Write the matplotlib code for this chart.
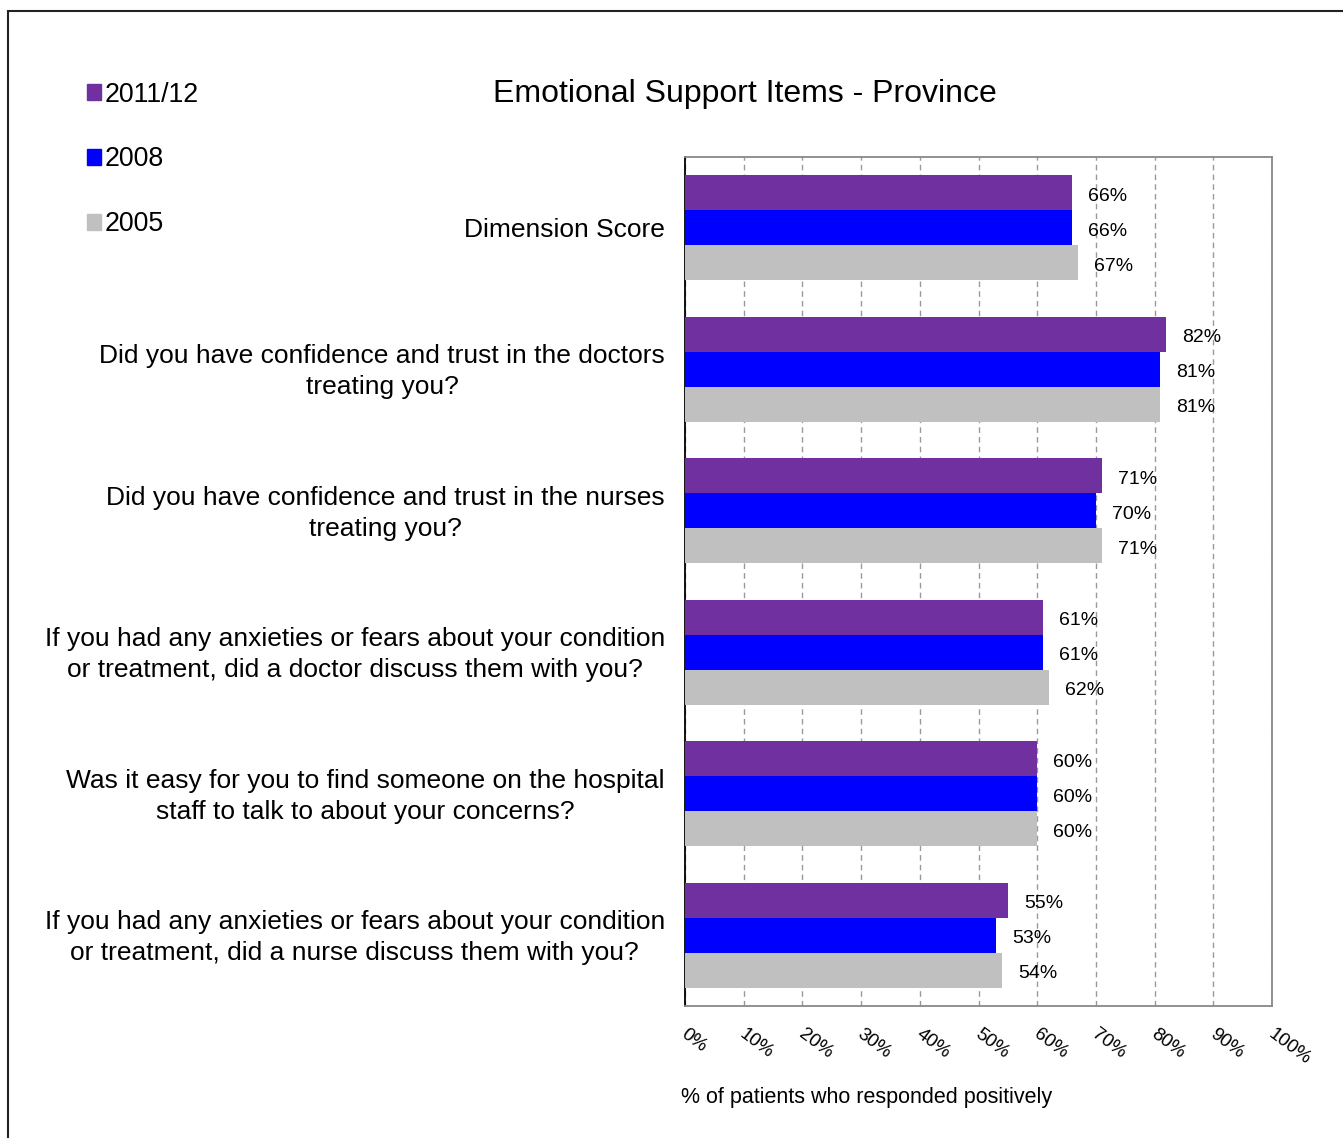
import numpy as np
import matplotlib
matplotlib.use("Agg")
import matplotlib.pyplot as plt
import matplotlib.transforms as mtransforms
from matplotlib.patches import Patch, Rectangle

plt.rcParams['font.family'] = ['Liberation Sans', 'DejaVu Sans']

# chart data
questions = [
    "Dimension Score",
    "Did you have confidence and trust in the doctors\ntreating you?",
    "Did you have confidence and trust in the nurses\ntreating you?",
    "If you had any anxieties or fears about your condition\nor treatment, did a doctor discuss them with you?",
    "Was it easy for you to find someone on the hospital\nstaff to talk to about your concerns?",
    "If you had any anxieties or fears about your condition\nor treatment, did a nurse discuss them with you?",
]
years = ["2011/12", "2008", "2005"]
vals_2011 = [66, 82, 71, 61, 60, 55]
vals_2008 = [66, 81, 70, 61, 60, 53]
vals_2005 = [67, 81, 71, 62, 60, 54]
colors = ["#7030A0", "#0000FF", "#C0C0C0"]
xticks = [0, 10, 20, 30, 40, 50, 60, 70, 80, 90, 100]

fig = plt.figure(figsize=(13.43, 11.38), dpi=100)
ax = fig.add_axes([685 / 1343, 1 - 1006 / 1138, 587 / 1343, 849 / 1138])

y = np.arange(len(questions))
barH = 0.248
series = [vals_2011, vals_2008, vals_2005]
for k, (vals, col) in enumerate(zip(series, colors)):
    pos = y + (k - 1) * barH
    ax.barh(pos, vals, height=barH, color=col, zorder=3)
    for p, v in zip(pos, vals):
        ax.annotate(f"{v}%", (v, p), xytext=(11.5, -2.5), textcoords="offset points",
                    ha="left", va="center", fontsize=14, zorder=4)

ax.set_xlim(0, 100)
ax.set_ylim(len(questions) - 0.5, -0.5)
ax.set_xticks(xticks)
ax.set_xticklabels([f"{t}%" for t in xticks], rotation=-37, ha="left",
                   rotation_mode="default", fontsize=13.5)
ax.tick_params(axis="x", length=0, pad=14)
ax.set_yticks(y)
ax.set_yticklabels(questions, fontsize=19, multialignment="center", linespacing=1.37)
ax.tick_params(axis="y", length=0, pad=14.4)

# shift rotated x labels a little to the left, question labels a bit up
xoff = mtransforms.ScaledTranslation(-7 / 100, 0, fig.dpi_scale_trans)
for lab in ax.get_xticklabels():
    lab.set_transform(lab.get_transform() + xoff)
yoff = mtransforms.ScaledTranslation(0, 3.5 / 100, fig.dpi_scale_trans)
for lab in ax.get_yticklabels()[1:]:
    lab.set_transform(lab.get_transform() + yoff)

ax.grid(axis="x", color="#999999", linestyle=(0, (4, 3)), linewidth=1, zorder=0)
for s in ["top", "right", "bottom"]:
    ax.spines[s].set_color("#888888")
    ax.spines[s].set_linewidth(1.3)
ax.spines["left"].set_color("black")
ax.spines["left"].set_linewidth(1.3)

fig.text(745 / 1343, 1 - 94 / 1138, "Emotional Support Items - Province",
         ha="center", va="center", fontsize=23)
fig.text(681 / 1343, 1 - 1097 / 1138, "% of patients who responded positively",
         ha="left", va="center", fontsize=15.5)

handles = [Patch(color=c, label=l) for c, l in zip(colors, years)]
fig.legend(handles=handles, loc="upper left", bbox_to_anchor=(87 / 1343, 1 - 81.5 / 1138),
           frameon=False, fontsize=19.3, handlelength=0.52, handleheight=0.52,
           handletextpad=0.15, labelspacing=1.45, borderpad=0, borderaxespad=0)

# outer frame of the original picture
fig.patches.append(Rectangle((8 / 1343, -0.1), 2, 1.1 - 11 / 1138, transform=fig.transFigure,
                             fill=False, edgecolor="#222222", linewidth=1.5))

fig.savefig("out.png", dpi=100)
